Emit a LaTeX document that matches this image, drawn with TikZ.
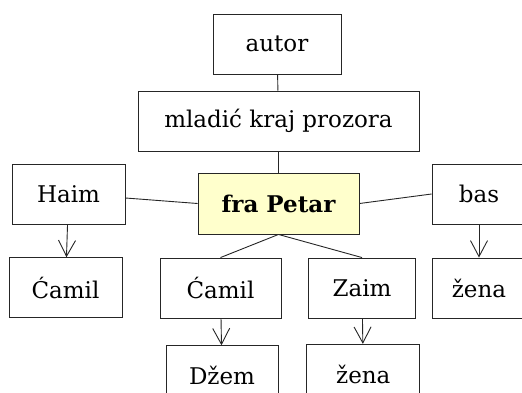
\documentclass[tikz,border=0pt]{standalone}
\usepackage{fontspec}
\setmainfont{DejaVu Serif}
\usetikzlibrary{arrows.meta}
\begin{document}
\begin{tikzpicture}[x=1pt,y=-1pt,
  box/.style={draw=black!85, line width=0.9pt, inner sep=0pt,
    minimum height=60pt, font=\fontsize{23}{27}\selectfont},
  edge/.style={draw=black!85, line width=0.9pt},
  arr/.style={edge, -{Straight Barb[length=16pt,width=17pt,line width=0.9pt]}}]
\useasboundingbox (0,0) rectangle (522,392);
\clip (0,0) rectangle (522,392);
% nodes
\node[box, minimum width=128pt] (autor) at (277,44) {autor};
\node[box, minimum width=281pt] (mladic) at (278.5,121) {mladić kraj prozora};
\node[box, minimum width=113pt] (haim) at (68.5,194) {Haim};
\node[box, minimum width=161pt, minimum height=61pt, fill={rgb,255:red,255;green,255;blue,204},
  font=\fontsize{23}{27}\selectfont\bfseries] (petar) at (278.5,203.5) {fra Petar};
\node[box, minimum width=94pt] (bas) at (479,194) {bas};
\node[box, minimum width=113pt] (camilL) at (65.5,287.7) {Ćamil};
\node[box, minimum width=121pt] (camilM) at (220.5,288) {Ćamil};
\node[box, minimum width=107pt] (zaim) at (362,288) {Zaim};
\node[box, minimum width=94pt] (zenaR) at (479,288) {žena};
\node[box, minimum width=112pt] (dzem) at (222,375.7) {Džem};
\node[box, minimum width=113pt] (zenaB) at (363.3,374.3) {žena};
% plain links
\draw[edge] (autor) -- (mladic);
\draw[edge] (mladic) -- (petar);
\draw[edge] (haim.-4.75) -- (petar.west);
\draw[edge] (petar.east) -- (bas.west);
\draw[edge] (petar.south) -- (camilM.north);
\draw[edge] (petar.south) -- (zaim.north);
% arrows
\draw[arr] (haim) -- (camilL);
\draw[arr] (camilM) -- (dzem);
\draw[arr] (zaim) -- (zenaB);
\draw[arr] (bas) -- (zenaR);
\end{tikzpicture}
\end{document}
